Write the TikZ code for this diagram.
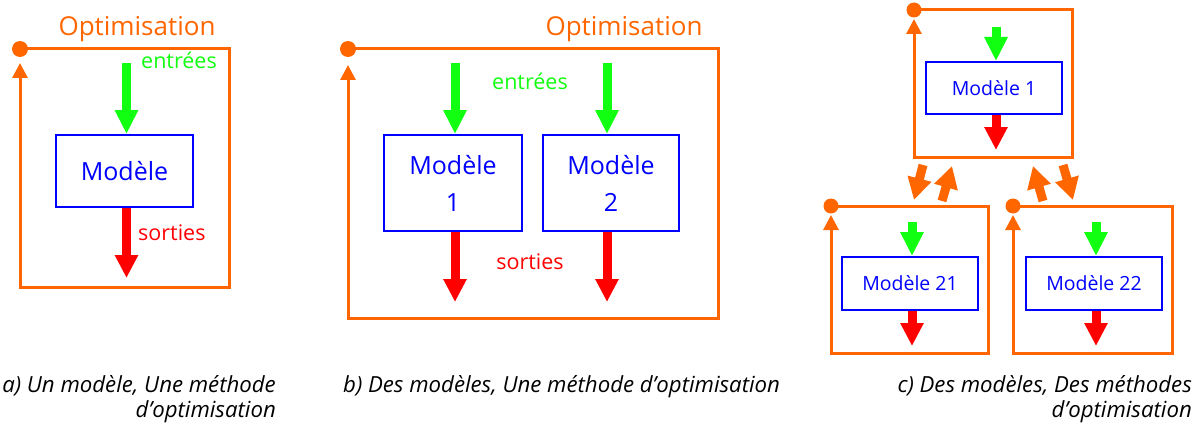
\documentclass[tikz,border=0pt]{standalone}
\usepackage{fontspec}
\setmainfont{Open Sans}
\usetikzlibrary{arrows.meta}
\definecolor{optc}{HTML}{FF6600}
\definecolor{inc}{HTML}{11FF11}
\definecolor{outc}{HTML}{FF0000}
\definecolor{modc}{HTML}{0000FF}
\tikzset{
  loopline/.style={draw=optc, line width=3pt, line join=miter, -{Triangle[width=15pt,length=15pt]}},
  dotnode/.style={circle, fill=optc, inner sep=0pt, minimum size=16pt},
  modbox/.style={draw=modc, line width=2pt, text=modc, align=center, inner sep=0pt},
  inarrow/.style={draw=inc, line width=9pt, -{Triangle[width=22pt,length=24pt]}},
  outarrow/.style={draw=outc, line width=9pt, -{Triangle[width=22pt,length=23pt]}},
  fatarrow/.style={draw=optc, line width=9pt, -{Triangle[width=23pt,length=22pt]}},
  optlabel/.style={text=optc, font=\fontsize{26}{30}\selectfont, anchor=base, inner sep=0pt},
  inlabel/.style={text=inc, font=\fontsize{21.5}{24}\selectfont, inner sep=0pt},
  outlabel/.style={text=outc, font=\fontsize{21.5}{24}\selectfont, inner sep=0pt},
  bigmod/.style={modbox, font=\fontsize{25}{37}\selectfont},
  smallmod/.style={modbox, font=\fontsize{19.5}{23}\selectfont},
  caption/.style={font=\fontsize{22.2}{25}\selectfont\itshape, inner sep=0pt},
}
\begin{document}
\begin{tikzpicture}[x=1pt,y=-1pt]
\useasboundingbox (0,0) rectangle (1200,428);
% ---------- panel a ----------
\node[optlabel] (aOpt) at (137,36) {Optimisation};
\node[dotnode] (aDot) at (20,49) {};
\coordinate (aTR) at (229,49);
\coordinate (aBR) at (229,287);
\coordinate (aBL) at (20,287);
\coordinate (aTip) at (20,63);
\draw[loopline] (aDot.center) -- (aTR) -- (aBR) -- (aBL) -- (aTip);
\node[bigmod, minimum width=137pt, minimum height=72pt] (aM) at (124.5,171) {Modèle};
\coordinate (aIn) at (126.5,63);
\coordinate (aOut) at (126.5,278);
\draw[inarrow] (aIn) -- (aIn |- aM.north);
\draw[outarrow] (aOut |- aM.south) -- (aOut);
\node[inlabel, anchor=base west] (aInL) at (141,69) {entrées};
\node[outlabel, anchor=base west] (aOutL) at (138,240) {sorties};
% ---------- panel b ----------
\node[optlabel] (bOpt) at (624,36) {Optimisation};
\node[dotnode] (bDot) at (348,49) {};
\coordinate (bTR) at (718,49);
\coordinate (bBR) at (718,318);
\coordinate (bBL) at (348,318);
\coordinate (bTip) at (348,65);
\draw[loopline] (bDot.center) -- (bTR) -- (bBR) -- (bBL) -- (bTip);
\node[bigmod, minimum width=138pt, minimum height=96pt] (bM1) at (453,183) {Modèle\\1};
\node[bigmod, minimum width=136pt, minimum height=96pt] (bM2) at (611,183) {Modèle\\2};
\coordinate (bIn1) at (455,63);
\coordinate (bIn2) at (607,63);
\coordinate (bOut1) at (455,302);
\coordinate (bOut2) at (607,302);
\draw[inarrow] (bIn1) -- (bIn1 |- bM1.north);
\draw[inarrow] (bIn2) -- (bIn2 |- bM2.north);
\draw[outarrow] (bOut1 |- bM1.south) -- (bOut1);
\draw[outarrow] (bOut2 |- bM2.south) -- (bOut2);
\node[inlabel, anchor=base] (bInL) at (530,90) {entrées};
\node[outlabel, anchor=base] (bOutL) at (530,269) {sorties};
% ---------- panel c : top ----------
\node[dotnode, minimum size=15pt] (cDot) at (914,10) {};
\coordinate (cTR) at (1072,10);
\coordinate (cBR) at (1072,157);
\coordinate (cBL) at (914,157);
\coordinate (cTip) at (914,19);
\draw[loopline] (cDot.center) -- (cTR) -- (cBR) -- (cBL) -- (cTip);
\node[smallmod, minimum width=136pt, minimum height=52pt] (cM) at (994,88) {Modèle 1};
\coordinate (cIn) at (996,27);
\coordinate (cOut) at (996,150);
\draw[inarrow] (cIn) -- (cIn |- cM.north);
\draw[outarrow] (cOut |- cM.south) -- (cOut);
% ---------- panel c : bottom left ----------
\node[dotnode, minimum size=15pt] (dDot) at (831,206) {};
\coordinate (dTR) at (988,206);
\coordinate (dBR) at (988,353);
\coordinate (dBL) at (831,353);
\coordinate (dTip) at (831,215);
\draw[loopline] (dDot.center) -- (dTR) -- (dBR) -- (dBL) -- (dTip);
\node[smallmod, minimum width=136pt, minimum height=53pt] (dM) at (910,283.5) {Modèle 21};
\coordinate (dIn) at (912,222);
\coordinate (dOut) at (912,346);
\draw[inarrow] (dIn) -- (dIn |- dM.north);
\draw[outarrow] (dOut |- dM.south) -- (dOut);
% ---------- panel c : bottom right ----------
\node[dotnode, minimum size=15pt] (eDot) at (1013,206) {};
\coordinate (eTR) at (1172,206);
\coordinate (eBR) at (1172,353);
\coordinate (eBL) at (1013,353);
\coordinate (eTip) at (1013,215);
\draw[loopline] (eDot.center) -- (eTR) -- (eBR) -- (eBL) -- (eTip);
\node[smallmod, minimum width=136pt, minimum height=53pt] (eM) at (1094,283.5) {Modèle 22};
\coordinate (eIn) at (1096,222);
\coordinate (eOut) at (1096,346);
\draw[inarrow] (eIn) -- (eIn |- eM.north);
\draw[outarrow] (eOut |- eM.south) -- (eOut);
% ---------- exchange arrows ----------
\coordinate (x1s) at (923,165); \coordinate (x1e) at (914,200);
\coordinate (x2s) at (942,201); \coordinate (x2e) at (952,166);
\coordinate (x3s) at (1043,201); \coordinate (x3e) at (1033,166);
\coordinate (x4s) at (1063,165); \coordinate (x4e) at (1073,200);
\draw[fatarrow] (x1s) -- (x1e);
\draw[fatarrow] (x2s) -- (x2e);
\draw[fatarrow] (x3s) -- (x3e);
\draw[fatarrow] (x4s) -- (x4e);
% ---------- captions ----------
\node[caption, anchor=base east] (capA1) at (276,392) {a) Un modèle, Une méthode};
\node[caption, anchor=base east] (capA2) at (276,417) {d’optimisation};
\node[caption, anchor=base west] (capB) at (343,392) {b) Des modèles, Une méthode d’optimisation};
\node[caption, anchor=base east] (capC1) at (1192,392) {c) Des modèles, Des méthodes};
\node[caption, anchor=base east] (capC2) at (1192,417) {d’optimisation};
\end{tikzpicture}
\end{document}
